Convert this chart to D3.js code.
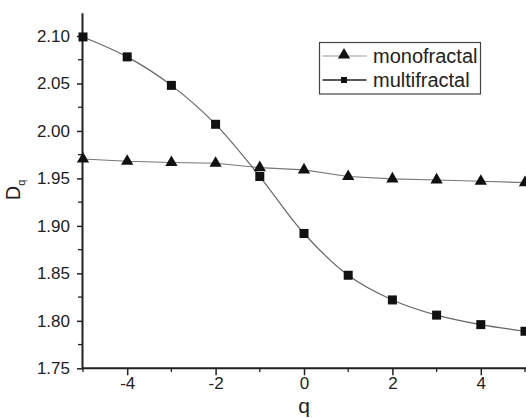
<!DOCTYPE html>
<html><head><meta charset="utf-8">
<script src="https://cdn.jsdelivr.net/npm/d3@7"></script>
<style>body{margin:0;background:#fff}svg{display:block}text{font-family:Arial,"Liberation Sans",sans-serif;fill:#222}</style>
</head><body>
<svg id="c" width="526" height="418"></svg>
<script>
const qValues = [-5,-4,-3,-2,-1,0,1,2,3,4,5];
const mono = [1.9705,1.968,1.9667,1.966,1.9614,1.959,1.952,1.9495,1.9484,1.947,1.9456];
const multi = [2.099,2.078,2.048,2.007,1.952,1.892,1.848,1.822,1.806,1.796,1.789];
const xTicks = [-4,-2,0,2,4];
const yTicks = [1.75,1.80,1.85,1.90,1.95,2.00,2.05,2.10];
const seriesNames = ["monofractal","multifractal"];

const svg = d3.select("#c");
const x = d3.scaleLinear().domain([-5,5]).range([83,525]);
const y = d3.scaleLinear().domain([1.75,2.10]).range([368.3,36]);
const yTop = y(2.124);
const FONT = "Arial,'Liberation Sans',sans-serif";

// minor ticks
const xMinor = [-5,-3,-1,1,3,5];
svg.append("g").selectAll("line").data(xMinor).join("line")
  .attr("x1",d=>x(d)).attr("x2",d=>x(d)).attr("y1",368).attr("y2",372)
  .attr("stroke","#222").attr("stroke-width",1.3);
const yMinor = d3.range(0,7).map(i=>1.775+i*0.05);
svg.append("g").selectAll("line").data(yMinor).join("line")
  .attr("x1",78).attr("x2",83).attr("y1",d=>y(d)).attr("y2",d=>y(d))
  .attr("stroke","#222").attr("stroke-width",1.3);

// axes
const xAxis = d3.axisBottom(x).tickValues(xTicks).tickSize(7).tickPadding(2)
  .tickFormat(d=>String(d));
const gx = svg.append("g").attr("transform","translate(0,368.3)").call(xAxis);
gx.select(".domain").remove();
gx.selectAll(".tick line").attr("stroke","#222").attr("stroke-width",1.5);
gx.selectAll(".tick text").attr("font-size",17).attr("fill","#222").attr("font-family",FONT);

const yAxis = d3.axisLeft(y).tickValues(yTicks).tickSize(6).tickPadding(7).tickFormat(d3.format(".2f"));
const gy = svg.append("g").attr("transform","translate(83,0)").call(yAxis);
gy.select(".domain").remove();
gy.selectAll(".tick line").attr("stroke","#222").attr("stroke-width",1.5);
gy.selectAll(".tick text").attr("font-size",17).attr("fill","#222").attr("font-family",FONT);

svg.append("line").attr("x1",82.5).attr("x2",526).attr("y1",368.3).attr("y2",368.3).attr("stroke","#222").attr("stroke-width",2);
svg.append("line").attr("x1",82.5).attr("x2",82.5).attr("y1",yTop).attr("y2",369).attr("stroke","#222").attr("stroke-width",2);

// lines
const monoData = qValues.map((q,i)=>({q,v:mono[i]}));
const multiData = qValues.map((q,i)=>({q,v:multi[i]}));
svg.append("path").datum(monoData)
  .attr("d",d3.line().x(d=>x(d.q)).y(d=>y(d.v)))
  .attr("fill","none").attr("stroke","#777").attr("stroke-width",1.1);
svg.append("path").datum(multiData)
  .attr("d",d3.line().curve(d3.curveCatmullRom).x(d=>x(d.q)).y(d=>y(d.v)))
  .attr("fill","none").attr("stroke","#666").attr("stroke-width",1.2);

const tri = d3.symbol().type(d3.symbolTriangle).size(65);
svg.append("g").selectAll("path").data(monoData).join("path")
  .attr("d",tri).attr("transform",d=>`translate(${x(d.q)},${y(d.v)})`).attr("fill","#111");
svg.append("g").selectAll("rect").data(multiData).join("rect")
  .attr("x",d=>x(d.q)-4.5).attr("y",d=>y(d.v)-4.5).attr("width",9).attr("height",9).attr("fill","#111");

// axis labels
const dl = svg.append("text").attr("transform","translate(20,190) rotate(-90)").attr("text-anchor","middle")
  .attr("font-size",20);
dl.append("tspan").text("D");
dl.append("tspan").attr("font-size",11).attr("dy",5).text("q");
svg.append("text").attr("x",304).attr("y",413).attr("text-anchor","middle").attr("font-size",21).text("q");

// legend
const lg = svg.append("g");
lg.append("rect").attr("x",319.5).attr("y",42.5).attr("width",161).attr("height",51.5)
  .attr("fill","#fff").attr("stroke","#444").attr("stroke-width",1.2);
const rows = [56,80];
seriesNames.forEach((n,i)=>{
  lg.append("line").attr("x1",322.5).attr("x2",366.5).attr("y1",rows[i]).attr("y2",rows[i])
    .attr("stroke",i===0?"#999":"#222").attr("stroke-width",i===0?1:1.5);
  if(i===0) lg.append("path").attr("d",tri).attr("transform",`translate(344,${rows[i]-1})`).attr("fill","#111");
  else lg.append("rect").attr("x",341).attr("y",rows[i]-3).attr("width",6).attr("height",6).attr("fill","#111");
  lg.append("text").attr("x",373).attr("y",rows[i]+6.5).attr("font-size",20).text(n);
});
</script>
</body></html>
